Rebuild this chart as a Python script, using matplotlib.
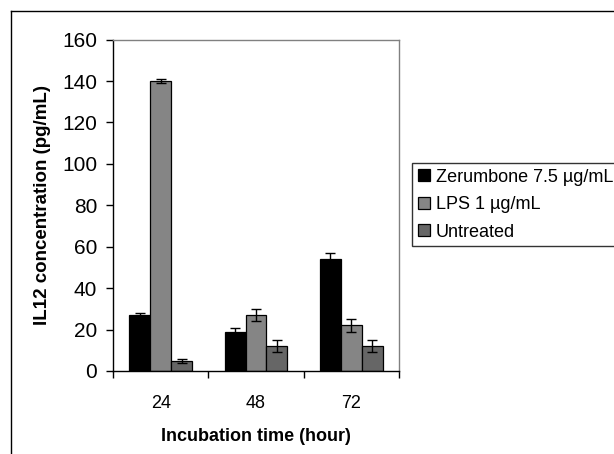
import numpy as np
import matplotlib
matplotlib.use("Agg")
import matplotlib.pyplot as plt
from matplotlib.lines import Line2D

plt.rcParams['font.family'] = ['Liberation Sans', 'DejaVu Sans']

# data
hours = ['24', '48', '72']
series = ['Zerumbone 7.5 µg/mL', 'LPS 1 µg/mL', 'Untreated']
zerumbone = [27, 19, 54]
zerumbone_err = [1, 2, 3]
lps = [140, 27, 22]
lps_err = [1, 3, 3]
untreated = [5, 12, 12]
untreated_err = [1, 3, 3]

values = [zerumbone, lps, untreated]
errors = [zerumbone_err, lps_err, untreated_err]
colors = ['#000000', '#858585', '#666666']

fig = plt.figure(figsize=(6.14, 4.54), dpi=100)
ax = fig.add_axes([113 / 614, 1 - 371 / 454, 286 / 614, 331.4 / 454])

x = np.arange(len(hours))
w = 0.22
for i, (vals, errs, c, lab) in enumerate(zip(values, errors, colors, series)):
    ax.bar(x + (i - 1) * w, vals, w, color=c, edgecolor='black', linewidth=0.9,
           label=lab, zorder=2)
    ax.errorbar(x + (i - 1) * w, vals, yerr=errs, fmt='none', ecolor='black',
                elinewidth=1, capsize=3.5, capthick=1, zorder=3)

ax.set_xlim(-0.5, 2.5)
ax.set_ylim(0, 160)
ax.set_yticks(np.arange(0, 161, 20))
ax.set_xticks(x)
ax.set_xticklabels(hours)
ax.set_xticks([-0.5, 0.5, 1.5, 2.5], minor=True)
ax.tick_params(axis='x', which='major', length=0, pad=17, labelsize=13)
ax.tick_params(axis='x', which='minor', length=5, width=1, direction='out')
ax.tick_params(axis='y', length=5, width=1, direction='out', pad=6.5, labelsize=15)

for s in ['top', 'right']:
    ax.spines[s].set_color('#808080')
    ax.spines[s].set_linewidth(1)
for s in ['left', 'bottom']:
    ax.spines[s].set_color('black')
    ax.spines[s].set_linewidth(1)

ax.set_xlabel('Incubation time (hour)', fontsize=13, fontweight='bold', labelpad=12)
ax.set_ylabel('IL12 concentration (pg/mL)', fontsize=13.5, fontweight='bold', labelpad=8)

leg = fig.legend(loc='upper left', bbox_to_anchor=(412 / 614, 1 - 163 / 454),
                 fontsize=13, frameon=True, fancybox=False, borderaxespad=0,
                 handlelength=0.65, handleheight=0.65, handletextpad=0.35,
                 labelspacing=0.58, borderpad=0.32)
leg.get_frame().set_edgecolor('black')
leg.get_frame().set_linewidth(1)

# outer frame of the picture
fig.add_artist(Line2D([11 / 614, 11 / 614], [0, 1 - 11 / 454], color='black', lw=1,
                      transform=fig.transFigure))
fig.add_artist(Line2D([11 / 614, 1], [1 - 11 / 454, 1 - 11 / 454], color='black', lw=1,
                      transform=fig.transFigure))

fig.savefig('out.png', dpi=100)
